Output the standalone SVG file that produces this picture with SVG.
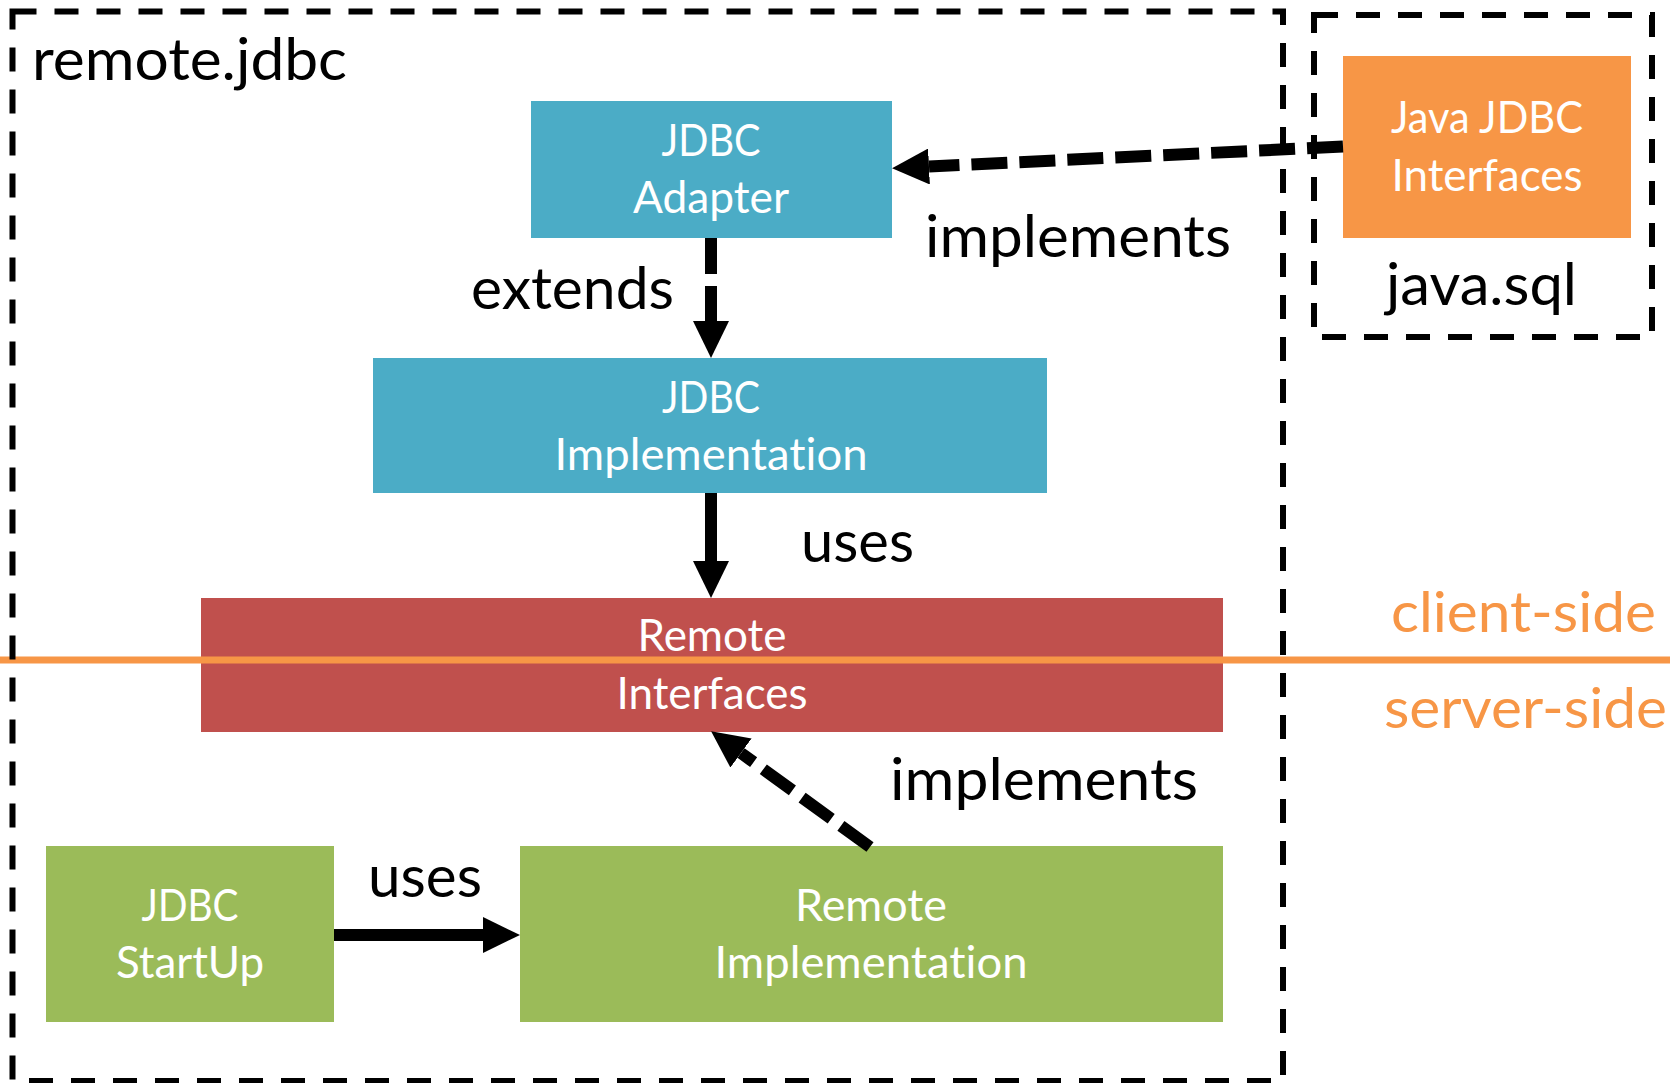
<svg xmlns="http://www.w3.org/2000/svg" width="1670" height="1083" viewBox="0 0 1670 1083">
  <style>
    text { font-family: Lato, "Open Sans", "Liberation Sans", sans-serif; font-variant-ligatures: none; font-feature-settings: "liga" 0, "clig" 0; }
    .node-blue { fill: #4BACC6; }
    .node-red { fill: #C0504D; }
    .node-green { fill: #9BBB59; }
    .node-orange { fill: #F79646; }
    .nlabel { font-size: 44px; fill: #ffffff; text-anchor: middle; }
    .label { font-size: 58px; fill: #000000; }
    .side { font-size: 56px; fill: #F79646; }
    .pkg { fill: none; stroke: #000000; stroke-width: 6; stroke-dasharray: 24 18; }
    .conn { fill: none; stroke: #000000; stroke-width: 12; }
    .dashed { stroke-dasharray: 36 12; }
  </style>
  <defs>
    <marker id="head" markerUnits="userSpaceOnUse" viewBox="0 0 37 36" markerWidth="37" markerHeight="36" refX="0" refY="18" orient="auto">
      <path d="M0,0 L37,18 L0,36 Z" fill="#000000"/>
    </marker>
  </defs>

  <rect width="1670" height="1083" fill="#ffffff"/>

  <!-- nodes -->
  <g id="jdbc-adapter">
    <rect class="node-blue" x="531" y="101" width="361" height="137"/>
    <text class="nlabel" x="711" y="156" textLength="99" lengthAdjust="spacingAndGlyphs">JDBC</text>
    <text class="nlabel" x="711" y="213" textLength="156" lengthAdjust="spacingAndGlyphs">Adapter</text>
  </g>
  <g id="jdbc-implementation">
    <rect class="node-blue" x="373" y="358" width="674" height="135"/>
    <text class="nlabel" x="711" y="413" textLength="98" lengthAdjust="spacingAndGlyphs">JDBC</text>
    <text class="nlabel" x="711" y="470" textLength="313" lengthAdjust="spacingAndGlyphs">Implementation</text>
  </g>
  <g id="remote-interfaces">
    <rect class="node-red" x="201" y="598" width="1022" height="134"/>
    <text class="nlabel" x="712" y="651" textLength="149" lengthAdjust="spacingAndGlyphs">Remote</text>
    <text class="nlabel" x="712" y="709" textLength="191" lengthAdjust="spacingAndGlyphs">Interfaces</text>
  </g>
  <g id="jdbc-startup">
    <rect class="node-green" x="46" y="846" width="288" height="176"/>
    <text class="nlabel" x="190" y="921" textLength="97" lengthAdjust="spacingAndGlyphs">JDBC</text>
    <text class="nlabel" x="190" y="978" textLength="148" lengthAdjust="spacingAndGlyphs">StartUp</text>
  </g>
  <g id="remote-implementation">
    <rect class="node-green" x="520" y="846" width="703" height="176"/>
    <text class="nlabel" x="871" y="921" textLength="152" lengthAdjust="spacingAndGlyphs">Remote</text>
    <text class="nlabel" x="871" y="978" textLength="313" lengthAdjust="spacingAndGlyphs">Implementation</text>
  </g>
  <g id="java-jdbc-interfaces">
    <rect class="node-orange" x="1343" y="56" width="288" height="182"/>
    <text class="nlabel" x="1487" y="133" textLength="192" lengthAdjust="spacingAndGlyphs">Java JDBC</text>
    <text class="nlabel" x="1487" y="191" textLength="191" lengthAdjust="spacingAndGlyphs">Interfaces</text>
  </g>

  <!-- client / server boundary -->
  <g id="tier-boundary">
    <line x1="0" y1="660" x2="1670" y2="660" stroke="#F79646" stroke-width="7"/>
    <text class="side" x="1391" y="632" textLength="265" lengthAdjust="spacingAndGlyphs">client-side</text>
    <text class="side" x="1384" y="728" textLength="283" lengthAdjust="spacingAndGlyphs">server-side</text>
  </g>

  <!-- connectors -->
  <g id="connectors">
    <path class="conn dashed" d="M1343,146.5 L929,166.5" marker-end="url(#head)"/>
    <path class="conn dashed" d="M711,238 L711,321" marker-end="url(#head)"/>
    <path class="conn" d="M711,493 L711,561" marker-end="url(#head)"/>
    <path class="conn dashed" d="M870,847 L741,753" marker-end="url(#head)"/>
    <path class="conn" d="M334,935 L483,935" marker-end="url(#head)"/>
    <text class="label" x="925" y="257" textLength="306" lengthAdjust="spacingAndGlyphs">implements</text>
    <text class="label" x="471" y="309" textLength="203" lengthAdjust="spacingAndGlyphs">extends</text>
    <text class="label" x="801" y="562" textLength="113" lengthAdjust="spacingAndGlyphs">uses</text>
    <text class="label" x="890" y="800" textLength="308" lengthAdjust="spacingAndGlyphs">implements</text>
    <text class="label" x="368" y="897" textLength="114" lengthAdjust="spacingAndGlyphs">uses</text>
  </g>

  <!-- packages -->
  <g id="pkg-remote-jdbc">
    <rect class="pkg" x="12.5" y="11.5" width="1270.5" height="1069.5"/>
    <text class="label" x="32" y="80" textLength="315" lengthAdjust="spacingAndGlyphs">remote.jdbc</text>
  </g>
  <g id="pkg-java-sql">
    <rect class="pkg" x="1314" y="15" width="338" height="322"/>
    <text class="label" x="1386" y="305" textLength="191" lengthAdjust="spacingAndGlyphs">java.sql</text>
  </g>
</svg>
